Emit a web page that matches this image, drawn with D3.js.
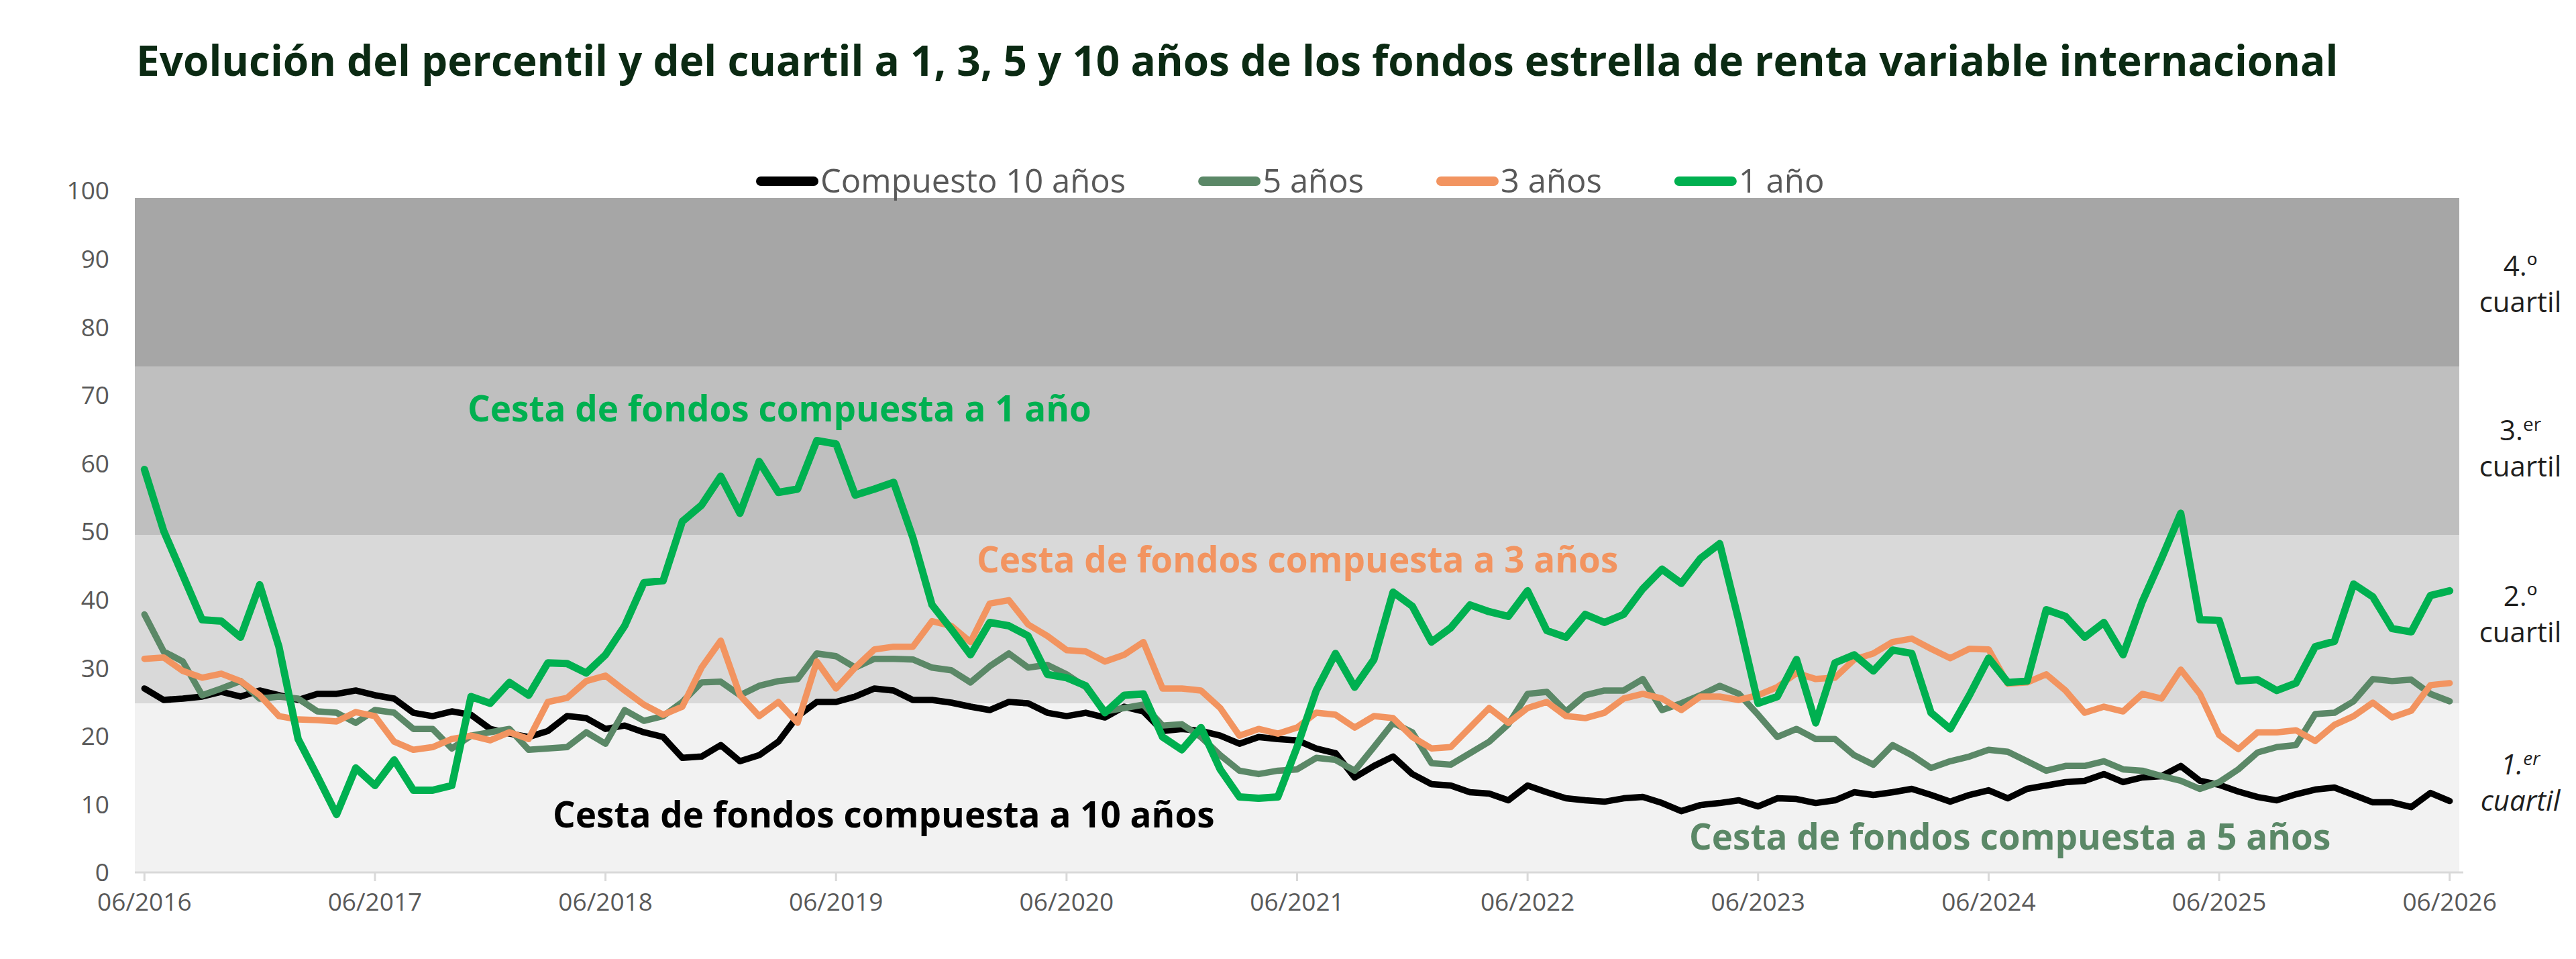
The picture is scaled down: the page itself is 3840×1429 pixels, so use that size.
<!DOCTYPE html>
<html>
<head>
<meta charset="utf-8">
<script src="https://cdn.jsdelivr.net/npm/d3@7"></script>
<style>
  body { margin: 0; background: #fff; }
  svg { display: block; font-family: "Open Sans", "Noto Sans", sans-serif; }
</style>
</head>
<body>
<div class="canvas"></div>
<script>
// months from 06/2016 to 06/2026
const months = d3.timeMonth.range(new Date(2016, 5, 1), new Date(2026, 6, 1));
const yearTicks = months.filter(d => d.getMonth() === 5);

// percentile values
const compuesto10 = [
  27.2, 25.5, 25.7, 26.0, 26.7, 26.0, 26.9, 26.2, 25.5, 26.4, 26.4, 26.9, 26.2, 25.7, 23.6, 23.1, 23.8, 23.3, 21.2, 20.5, 20.0, 20.9, 23.1, 22.8,
  21.2, 21.7, 20.7, 20.0, 16.9, 17.1, 18.8, 16.4, 17.3, 19.3, 23.1, 25.2, 25.2, 26.0, 27.2, 26.9, 25.5, 25.5, 25.1, 24.5, 24.0, 25.2, 25.0, 23.6,
  23.1, 23.6, 22.9, 24.5, 23.8, 20.9, 21.2, 20.9, 20.2, 19.0, 20.0, 19.7, 19.5, 18.3, 17.6, 14.0, 15.7, 17.1, 14.5, 13.0, 12.8, 11.8, 11.6, 10.6,
  12.8, 11.8, 10.9, 10.6, 10.4, 10.9, 11.1, 10.2, 9.0, 9.9, 10.2, 10.6, 9.7, 10.9, 10.8, 10.2, 10.6, 11.8, 11.4, 11.8, 12.3, 11.4, 10.4, 11.4,
  12.1, 10.9, 12.3, 12.8, 13.3, 13.5, 14.5, 13.3, 14.0, 14.2, 15.7, 13.5, 12.9, 11.9, 11.1, 10.6, 11.5, 12.2, 12.5, 11.4, 10.3, 10.3, 9.6, 11.7, 10.5
];
const anios5 = [
  38.2, 32.7, 31.2, 26.2, 27.2, 28.3, 25.7, 26.0, 25.7, 23.8, 23.6, 22.1, 24.0, 23.6, 21.2, 21.2, 18.3, 20.2, 20.7, 21.2, 18.1, 18.3, 18.5, 20.7,
  19.0, 24.0, 22.4, 23.1, 25.2, 28.1, 28.2, 26.2, 27.6, 28.3, 28.6, 32.4, 32.0, 30.3, 31.6, 31.6, 31.5, 30.3, 29.9, 28.1, 30.5, 32.4, 30.3, 30.7,
  29.3, 27.4, 23.8, 24.3, 24.8, 21.7, 21.9, 20.0, 17.3, 15.0, 14.5, 15.0, 15.2, 16.9, 16.6, 15.0, 18.5, 22.1, 20.7, 16.1, 15.9, 17.6, 19.3, 21.9,
  26.4, 26.7, 23.8, 26.2, 26.9, 26.9, 28.6, 24.0, 25.0, 26.2, 27.6, 26.4, 23.3, 20.0, 21.2, 19.7, 19.7, 17.3, 15.9, 18.8, 17.3, 15.4, 16.4, 17.1,
  18.1, 17.8, 16.4, 15.0, 15.7, 15.7, 16.4, 15.2, 15.0, 14.2, 13.5, 12.3, 13.3, 15.2, 17.7, 18.5, 18.8, 23.4, 23.6, 25.3, 28.6, 28.3, 28.5, 26.4, 25.3
];
const anios3 = [
  31.6, 31.8, 29.8, 28.8, 29.4, 28.3, 26.2, 23.1, 22.6, 22.5, 22.3, 23.7, 23.1, 19.3, 18.1, 18.5, 19.7, 20.2, 19.5, 20.7, 19.7, 25.2, 25.8, 28.3,
  29.1, 26.9, 24.8, 23.3, 24.5, 30.3, 34.3, 26.2, 23.1, 25.2, 22.1, 31.2, 27.2, 30.3, 33.0, 33.4, 33.4, 37.2, 36.5, 34.1, 39.8, 40.3, 36.7, 35.0,
  32.9, 32.7, 31.2, 32.2, 34.1, 27.2, 27.2, 26.9, 24.3, 20.2, 21.2, 20.5, 21.4, 23.6, 23.3, 21.4, 23.1, 22.8, 20.0, 18.3, 18.5, 21.4, 24.3, 22.1,
  24.3, 25.2, 23.1, 22.8, 23.6, 25.7, 26.4, 25.7, 24.0, 26.0, 26.0, 25.5, 26.2, 27.4, 29.5, 28.6, 28.8, 31.5, 32.4, 34.1, 34.6, 33.1, 31.7, 33.1,
  33.0, 27.9, 28.1, 29.3, 26.9, 23.6, 24.5, 23.8, 26.4, 25.7, 30.0, 26.4, 20.3, 18.2, 20.7, 20.7, 21.0, 19.4, 21.8, 23.1, 25.1, 22.9, 23.9, 27.7, 28.0
];
const anio1 = [
  59.7, 50.6, 44.0, 37.4, 37.2, 34.8, 42.6, 33.4, 19.7, 14.2, 8.5, 15.4, 12.8, 16.6, 12.1, 12.1, 12.8, 26.0, 25.0, 28.1, 26.2, 31.0, 30.9, 29.5,
  32.2, 36.5, 42.9, 43.2, 52.0, 54.4, 58.7, 53.2, 60.9, 56.3, 56.8, 64.0, 63.5, 55.9, 56.8, 57.8, 49.6, 39.6, 36.0, 32.2, 37.0, 36.5, 35.0, 29.3,
  28.8, 27.6, 23.6, 26.2, 26.4, 20.0, 18.1, 21.4, 15.2, 11.1, 10.9, 11.1, 18.5, 26.9, 32.4, 27.4, 31.5, 41.5, 39.4, 34.1, 36.2, 39.6, 38.6, 37.9,
  41.7, 35.8, 34.8, 38.2, 37.0, 38.2, 42.0, 44.9, 42.8, 46.5, 48.7, 37.2, 25.0, 26.0, 31.5, 22.1, 31.0, 32.2, 29.8, 32.9, 32.4, 23.6, 21.2, 26.2,
  31.7, 28.1, 28.3, 38.9, 37.9, 34.8, 37.0, 32.2, 40.1, 46.5, 53.2, 37.4, 37.3, 28.3, 28.5, 26.9, 28.0, 33.4, 34.2, 42.7, 40.8, 36.1, 35.6, 41.0, 41.7
];

const seriesNames = ['Compuesto 10 años', '5 años', '3 años', '1 año'];
const seriesValues = [compuesto10, anios5, anios3, anio1];
const seriesColours = ['#000000', '#5b8867', '#f29460', '#00b050'];

const quartileBreaks = [0, 25, 50, 75, 100];
const quartileColours = ['#f2f2f2', '#d9d9d9', '#bfbfbf', '#a6a6a6'];
const quartileLabels = [
  { n: '1.', sup: 'er', italic: true },
  { n: '2.º', sup: '', italic: false },
  { n: '3.', sup: 'er', italic: false },
  { n: '4.º', sup: '', italic: false }
];

const yTicks = d3.range(0, 101, 10);

const annotations = [
  { text: 'Cesta de fondos compuesta a 1 año', x: 697, y: 628, colour: '#00b050' },
  { text: 'Cesta de fondos compuesta a 3 años', x: 1456, y: 853, colour: '#f29460' },
  { text: 'Cesta de fondos compuesta a 10 años', x: 824, y: 1233, colour: '#000000' },
  { text: 'Cesta de fondos compuesta a 5 años', x: 2518, y: 1266, colour: '#5b8867' }
];

const dims = { width: 3840, height: 1429 };
const plot = { left: 201, right: 3666, top: 295, bottom: 1299 };

const svg = d3.select('.canvas')
  .append('svg')
  .attr('width', dims.width)
  .attr('height', dims.height);

svg.append('rect')
  .attr('width', dims.width)
  .attr('height', dims.height)
  .attr('fill', '#fff');

const x = d3.scaleBand()
  .domain(months)
  .range([plot.left, plot.right])
  .padding(0);

const y = d3.scaleLinear()
  .domain([0, 100])
  .range([plot.bottom, plot.top]);

// the tick labels sit a little higher than the bands in the original
const yLabel = d3.scaleLinear()
  .domain([0, 100])
  .range([plot.bottom + 2, plot.top - 10]);

const cx = d => x(d) + x.bandwidth() / 2;

// title
svg.append('text')
  .attr('x', 203)
  .attr('y', 113)
  .attr('font-size', 62)
  .attr('font-weight', 700)
  .attr('fill', '#0b2a13')
  .text('Evolución del percentil y del cuartil a 1, 3, 5 y 10 años de los fondos estrella de renta variable internacional');

// quartile bands
const bands = d3.range(4).map(i => ({ lo: quartileBreaks[i], hi: quartileBreaks[i + 1] }));

svg.append('g').selectAll('rect')
  .data(bands)
  .enter().append('rect')
    .attr('x', plot.left)
    .attr('width', plot.right - plot.left)
    .attr('y', d => y(d.hi))
    .attr('height', d => y(d.lo) - y(d.hi))
    .attr('fill', (d, i) => quartileColours[i]);

// quartile labels on the right
const qShift = [-8, -8, -4, 2];
const qLab = svg.append('g').attr('font-size', 42).attr('fill', '#1f1f1f').attr('text-anchor', 'middle');
bands.forEach((b, i) => {
  const mid = y((b.lo + b.hi) / 2) + qShift[i];
  const lab = quartileLabels[i];
  const t = qLab.append('text')
    .attr('x', 3757)
    .attr('font-style', lab.italic ? 'italic' : 'normal');
  const l1 = t.append('tspan').attr('x', 3757).attr('y', mid - 12).text(lab.n);
  if (lab.sup) {
    l1.append('tspan').attr('font-size', 28).attr('dy', -14).text(lab.sup);
  }
  t.append('tspan').attr('x', 3757).attr('y', mid + 42).text('cuartil');
});

// y axis
const yAxis = svg.append('g')
  .attr('transform', `translate(${plot.left}, 0)`)
  .call(d3.axisLeft(yLabel).tickValues(yTicks).tickSize(0).tickPadding(38));
yAxis.select('.domain').remove();
yAxis.selectAll('text')
  .attr('font-size', 37)
  .attr('font-family', '"Open Sans", sans-serif')
  .attr('fill', '#595959');

// x axis
svg.append('line')
  .attr('x1', plot.left)
  .attr('x2', plot.right + 6)
  .attr('y1', plot.bottom + 1)
  .attr('y2', plot.bottom + 1)
  .attr('stroke', '#d9d9d9')
  .attr('stroke-width', 3);

const xAxis = svg.append('g')
  .attr('transform', `translate(${-x.bandwidth() / 2}, ${plot.bottom})`)
  .call(d3.axisBottom(x)
    .tickValues(yearTicks)
    .tickSize(14)
    .tickPadding(18)
    .tickFormat(d3.timeFormat('%m/%Y')));
xAxis.select('.domain').remove();
xAxis.selectAll('.tick line')
  .attr('transform', `translate(${x.bandwidth() / 2}, 0)`)
  .attr('stroke', '#d9d9d9')
  .attr('stroke-width', 3);
xAxis.selectAll('.tick text')
  .attr('transform', `translate(${x.bandwidth() / 2}, 0)`)
  .attr('font-size', 37)
  .attr('font-family', '"Open Sans", sans-serif')
  .attr('fill', '#595959');

// lines
const line = d3.line()
  .x((v, i) => cx(months[i]))
  .y(v => y(v));

svg.append('g').selectAll('path')
  .data(seriesValues)
  .enter().append('path')
    .attr('d', d => line(d))
    .attr('fill', 'none')
    .attr('stroke', (d, i) => seriesColours[i])
    .attr('stroke-width', (d, i) => i === 3 ? 11 : 9.5)
    .attr('stroke-linejoin', 'round')
    .attr('stroke-linecap', 'round');

// annotations
svg.append('g').selectAll('text')
  .data(annotations)
  .enter().append('text')
    .attr('x', d => d.x)
    .attr('y', d => d.y)
    .attr('font-size', 53)
    .attr('font-weight', 700)
    .attr('fill', d => d.colour)
    .text(d => d.text);

// legend
const legend = svg.append('g').attr('transform', 'translate(0, 270)');
let lx = 1127;
seriesNames.forEach((name, i) => {
  const g = legend.append('g').attr('transform', `translate(${lx}, 0)`);
  g.append('line')
    .attr('x1', 7).attr('x2', 86)
    .attr('stroke', seriesColours[i])
    .attr('stroke-width', 14)
    .attr('stroke-linecap', 'round');
  const t = g.append('text')
    .attr('x', 96)
    .attr('dy', '0.35em')
    .attr('font-size', 49)
    .attr('fill', '#595959')
    .text(name);
  lx += 96 + t.node().getComputedTextLength() + 108;
});
</script>
</body>
</html>
